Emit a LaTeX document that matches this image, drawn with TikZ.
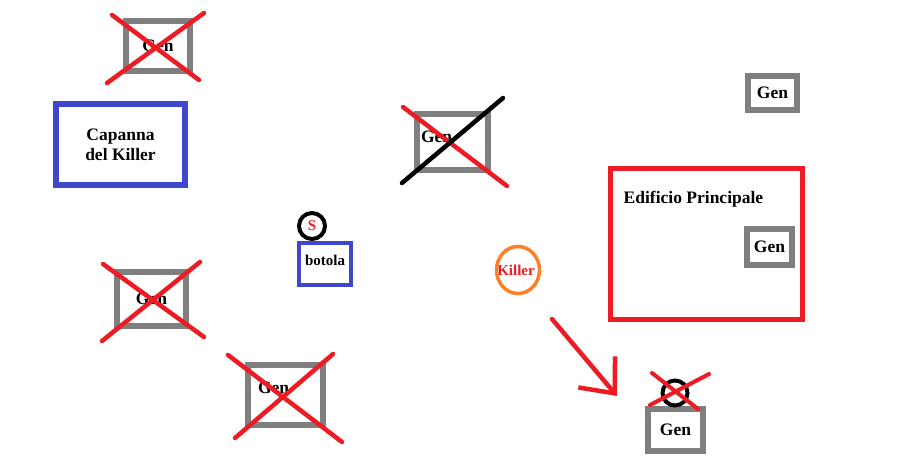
\documentclass[tikz,border=0pt]{standalone}
\usepackage{fontspec}
\setmainfont{Liberation Serif}
\usetikzlibrary{arrows.meta,positioning}
\definecolor{grigio}{HTML}{7F7F7F}
\definecolor{rosso}{HTML}{ED1C24}
\definecolor{blu}{HTML}{3F48CC}
\definecolor{arancio}{HTML}{FF7F27}
\tikzset{gen/.style={draw=grigio,line width=5.5pt,inner sep=4pt,font=\bfseries\fontsize{17.5}{20}\selectfont},
         stanza/.style={draw=blu,line width=5.5pt,inner sep=4pt,align=center,font=\bfseries\fontsize{17.5}{20}\selectfont},
         croce/.style={rosso,line width=4.5pt,line cap=round},
         anello/.style={circle,draw=black,line width=4pt,inner sep=0,text=rosso,font=\bfseries\fontsize{15}{18}\selectfont},
         testo/.style={inner sep=0,font=\bfseries\fontsize{17.5}{20}\selectfont}}
\begin{document}
\begin{tikzpicture}[x=1pt,y=-1pt]
  \useasboundingbox[fill=white] (0,0) rectangle (904,473);
  % edifici
  \node[stanza,minimum width=129,minimum height=81] (capanna) at (120.5,144.5) {Capanna\\del Killer};
  \node[stanza,line width=4.5pt,minimum width=52,minimum height=42,text depth=8pt,font=\bfseries\fontsize{15}{18}\selectfont] (botola) at (325,264) {botola};
  \node[draw=rosso,line width=5pt,minimum width=192,minimum height=150] (edificio) at (706,244) {};
  \node[testo,anchor=west] (titolo) at ([shift={(16,33)}]edificio.north west) {Edificio Principale};
  % generatori
  \node[gen,minimum width=64,minimum height=50] (g1) at (158,46) {Gen};
  \node[gen,minimum width=71,minimum height=56,inner xsep=4pt,text width=63pt,align=left,text depth=10pt] (g2) at (452.5,142) {Gen};
  \node[gen,minimum width=69,minimum height=54] (g3) at (151.5,299) {Gen};
  \node[gen,minimum width=75,minimum height=60,inner xsep=10pt,text width=55pt,align=left,text depth=14pt] (g4) at (285.5,395) {Gen};
  \node[gen,minimum width=55,minimum height=42] (g5) at (675.5,430) {Gen};
  \node[gen,minimum width=49,minimum height=34] (g6) at (772.5,93) {Gen};
  \node[gen,minimum width=45,minimum height=36] (g7) at (769.5,247) {Gen};
  % sopravvissuti e killer
  \node[anello,minimum size=26] (s) at (312,226) {S};
  \node[anello,minimum size=25] (s2) at (675,393) {};
  \node[testo,text=rosso,font=\bfseries\fontsize{15}{18}\selectfont] (killer) at (516,270) {Killer};
  \draw[arancio,line width=3.5pt] (518,270) ellipse [x radius=21.5,y radius=23.5];
  % generatori fatti
  \draw[croce] (112,15) -- (199,80) (204,13) -- (107,83);
  \draw[croce] (403,107) -- (507,186);
  \draw[line width=4.5pt,line cap=round] (503,98) -- (402,183);
  \draw[croce] (103,264) -- (204,337) (200,262) -- (102,341);
  \draw[croce] (228,355) -- (342,442) (333,354) -- (235,438);
  \draw[croce,line width=4pt] (652,373) -- (698,409) (709,374) -- (650,405);
  % mossa del killer
  \coordinate (da) at (552,319);
  \coordinate (a) at (617,396);
  \draw[rosso,line width=4.5pt,line cap=round,-{Straight Barb[length=28pt,width=48pt,line width=4.5pt]}] (da) -- (a);
\end{tikzpicture}
\end{document}
